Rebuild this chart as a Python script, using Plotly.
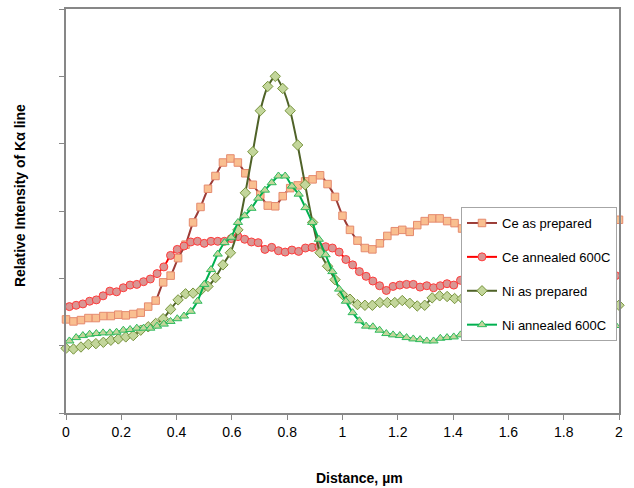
import plotly.graph_objects as go

# Sampling grids (µm)
N_PREP = 75   # as-prepared profiles: 0 .. 2 µm
N_ANN = 82    # annealed profiles: offset half step
dist_prep = [round(i * 2 / 74, 4) for i in range(N_PREP)]
dist_ann = [round(1 / 82 + i * 2 / 82, 4) for i in range(N_ANN)]

ce_as_prepared = [
    1.39, 1.36, 1.38, 1.41, 1.41, 1.44, 1.44, 1.46, 1.45, 1.47,
    1.49, 1.58, 1.67, 1.94, 2.04, 2.30, 2.50, 2.83, 3.06, 3.33,
    3.52, 3.72, 3.78, 3.72, 3.56, 3.39, 3.24, 3.08, 3.07, 3.22,
    3.34, 3.38, 3.44, 3.47, 3.53, 3.40, 3.21, 2.93, 2.72, 2.56,
    2.45, 2.43, 2.52, 2.63, 2.70, 2.72, 2.69, 2.79, 2.85, 2.89,
    2.89, 2.85, 2.82, 2.74, 2.74, 2.83, 2.87, 2.90, 2.91, 2.91,
    2.90, 2.87, 2.84, 2.82, 2.84, 2.87, 2.88, 2.90, 2.90, 2.88,
    2.87, 2.85, 2.85, 2.87, 2.87,
]

ce_annealed = [
    1.58, 1.60, 1.62, 1.66, 1.68, 1.74, 1.81, 1.80, 1.86, 1.90,
    1.91, 1.95, 1.99, 2.07, 2.17, 2.34, 2.43, 2.48, 2.54, 2.55,
    2.52, 2.55, 2.55, 2.55, 2.59, 2.62, 2.58, 2.54, 2.53, 2.43,
    2.46, 2.41, 2.39, 2.42, 2.40, 2.45, 2.46, 2.47, 2.47, 2.45,
    2.39, 2.28, 2.20, 2.10, 2.03, 1.96, 1.89, 1.82, 1.88, 1.90,
    1.91, 1.91, 1.87, 1.89, 1.86, 1.89, 1.92, 1.90, 1.97, 2.01,
    2.04, 2.07, 2.08, 2.08, 2.07, 2.05, 2.04, 2.03, 2.03, 2.04,
    2.05, 2.07, 2.07, 2.05, 2.04, 2.03, 2.03, 2.04, 2.05, 2.05,
    2.04, 2.04,
]

ni_as_prepared = [
    0.96, 0.95, 0.98, 1.02, 1.03, 1.05, 1.08, 1.10, 1.13, 1.15,
    1.23, 1.28, 1.33, 1.40, 1.54, 1.68, 1.77, 1.78, 1.82, 1.88,
    2.01, 2.20, 2.38, 2.72, 3.27, 3.88, 4.49, 4.85, 5.00, 4.82,
    4.49, 3.98, 3.39, 2.83, 2.38, 2.18, 1.98, 1.76, 1.69, 1.61,
    1.60, 1.60, 1.64, 1.64, 1.64, 1.67, 1.63, 1.59, 1.60, 1.71,
    1.74, 1.73, 1.70, 1.70, 1.67, 1.60, 1.58, 1.58, 1.60, 1.61,
    1.63, 1.63, 1.61, 1.60, 1.58, 1.58, 1.60, 1.61, 1.61, 1.60,
    1.58, 1.58, 1.60, 1.60, 1.60,
]

ni_annealed = [
    1.07, 1.12, 1.15, 1.17, 1.18, 1.19, 1.19, 1.20, 1.23, 1.24,
    1.26, 1.26, 1.26, 1.29, 1.32, 1.36, 1.40, 1.44, 1.51, 1.66,
    1.91, 2.13, 2.36, 2.53, 2.61, 2.83, 2.93, 3.04, 3.19, 3.31,
    3.42, 3.52, 3.52, 3.37, 3.25, 3.05, 2.83, 2.58, 2.35, 2.10,
    1.84, 1.66, 1.49, 1.37, 1.29, 1.28, 1.23, 1.18, 1.16, 1.15,
    1.12, 1.10, 1.09, 1.07, 1.07, 1.11, 1.12, 1.13, 1.16, 1.20,
    1.23, 1.25, 1.27, 1.29, 1.30, 1.30, 1.32, 1.32, 1.30, 1.30,
    1.29, 1.29, 1.30, 1.32, 1.32, 1.33, 1.33, 1.32, 1.32, 1.30,
    1.30, 1.30,
]

x_ticks = [0, 0.2, 0.4, 0.6, 0.8, 1, 1.2, 1.4, 1.6, 1.8, 2]
x_tick_text = ["0", "0.2", "0.4", "0.6", "0.8", "1", "1.2", "1.4", "1.6", "1.8", "2"]

series = [
    ("Ce as prepared", dist_prep, ce_as_prepared, "#9B3B36", "square", "#F9BF90", "#E58A6E", 7.5),
    ("Ce annealed 600C", dist_ann, ce_annealed, "#FF0000", "circle", "#D99694", "#FF3B3B", 8),
    ("Ni as prepared", dist_prep, ni_as_prepared, "#4F6228", "diamond", "#C3D69B", "#77933C", 8),
    ("Ni annealed 600C", dist_ann, ni_annealed, "#00B050", "triangle-up", "#C3D69B", "#2EBB5E", 8),
]

fig = go.Figure()
for i, (name, xs, ys, lc, sym, fc, bc, ms) in enumerate(series):
    fig.add_trace(go.Scatter(
        x=xs, y=ys, name=name, mode="lines+markers",
        line=dict(color=lc, width=2, shape="spline", smoothing=0.6),
        marker=dict(symbol=sym, size=ms, color=fc, line=dict(color=bc, width=1)),
        cliponaxis=False, legendgroup=f"g{i}",
    ))

axis_col = "#878787"
fig.update_layout(
    width=634, height=488,
    margin=dict(l=66, r=15, t=7, b=75),
    paper_bgcolor="white", plot_bgcolor="white",
    font=dict(family="Liberation Sans, Arial, sans-serif", size=13, color="black"),
    showlegend=True,
    legend=dict(
        x=(617 - 66) / 553, xanchor="right", y=(413 - 206) / 406, yanchor="top",
        bgcolor="white", bordercolor="#A6A6A6", borderwidth=1,
        font=dict(size=13), tracegroupgap=14, traceorder="grouped",
    ),
    xaxis=dict(
        range=[0, 2], tickvals=x_ticks, ticktext=x_tick_text,
        showgrid=False, zeroline=False, showline=True, linecolor=axis_col, linewidth=2,
        mirror=True, ticks="outside", ticklen=5, tickcolor=axis_col, tickwidth=1,
        tickfont=dict(size=14),
    ),
    yaxis=dict(
        range=[0, 6], dtick=1, showticklabels=False,
        showgrid=False, zeroline=False, showline=True, linecolor=axis_col, linewidth=2,
        mirror=True, ticks="outside", ticklen=5, tickcolor=axis_col, tickwidth=1,
    ),
    annotations=[
        dict(text="<b>Distance, µm</b>", xref="paper", yref="paper",
             x=(360 - 66) / 553, y=(413 - 478) / 406, showarrow=False,
             font=dict(size=14), xanchor="center", yanchor="middle"),
        dict(text="<b>Relative Intensity of Kα line</b>", xref="paper", yref="paper",
             x=(20 - 66) / 553, y=(413 - 195) / 406, showarrow=False, textangle=-90,
             font=dict(size=14), xanchor="center", yanchor="middle"),
    ],
)

fig.write_html("out.html", config={"displayModeBar": False},
               post_script="document.body.style.margin='0';")
